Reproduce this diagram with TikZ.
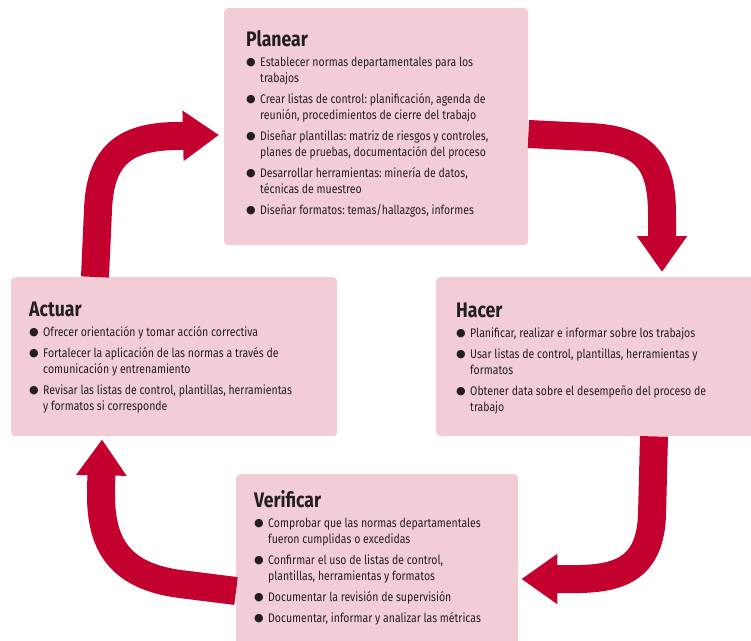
\documentclass[tikz,border=0pt]{standalone}
\usepackage{fontspec}
\usepackage{graphicx}
\setmainfont{Fira Sans}
\newfontfamily\bulfont{DejaVu Sans}
\usetikzlibrary{arrows.meta}

\definecolor{boxpink}{RGB}{242,205,214}
\definecolor{cyclered}{RGB}{196,0,47}
\definecolor{ink}{RGB}{35,31,32}

% stage heading, bullet mark and the narrowed two-column list layout
\newcommand\stagetitle[1]{\multicolumn{2}{@{}l@{}}{\fontsize{21}{21}\selectfont\bfseries #1}}
\newcommand\bul{\raisebox{0.2pt}{\scalebox{1.19}[1]{\bulfont\fontsize{11}{11}\selectfont ●}}}
\newcommand\stagelist[1]{\scalebox{0.84}[1]{%
  \begin{tabular}[t]{@{}p{16.7pt}@{}l@{}}#1\end{tabular}}}

\tikzset{
  stage/.style={fill=boxpink, draw=none, rounded corners=4pt, inner sep=0pt, anchor=north west},
  body/.style={anchor=base west, inner sep=0pt, text=ink,
    font=\fontsize{12.5}{16}\selectfont\frenchspacing},
  cycle/.style={draw=cyclered, line width=28pt, line cap=butt,
    -{Triangle[length=36pt,width=48pt]}}
}

\begin{document}
\begin{tikzpicture}[x=1pt,y=-1pt]
\clip (0,0) rectangle (751,640);
\fill[white] (0,0) rectangle (751,640);

% the four stages of the cycle
\node[stage, minimum width=304pt, minimum height=237pt] (plan) at (224,8) {};
\node[stage, minimum width=326pt, minimum height=159pt] (act) at (11,277) {};
\node[stage, minimum width=330pt, minimum height=159pt] (do) at (436,277) {};
\node[stage, minimum width=282pt, minimum height=180pt] (check) at (236,474) {};

\node[body] (plantxt) at (246,46) {\stagelist{%
  \stagetitle{Planear}\\[4pt]
  \bul & Establecer normas departamentales para los\\
       & trabajos\\[5pt]
  \bul & Crear listas de control: planificación, agenda de\\
       & reunión, procedimientos de cierre del trabajo\\[5pt]
  \bul & Diseñar plantillas: matriz de riesgos y controles,\\
       & planes de pruebas, documentación del proceso\\[5pt]
  \bul & Desarrollar herramientas: minería de datos,\\
       & técnicas de muestreo\\[5pt]
  \bul & Diseñar formatos: temas/hallazgos, informes}};

\node[body] (dotxt) at (456,317) {\stagelist{%
  \stagetitle{Hacer}\\[4pt]
  \bul & Planificar, realizar e informar sobre los trabajos\\[5pt]
  \bul & Usar listas de control, plantillas, herramientas y\\
       & formatos\\[5pt]
  \bul & Obtener data sobre el desempeño del proceso de\\
       & trabajo}};

\node[body] (checktxt) at (254,507) {\stagelist{%
  \stagetitle{Verificar}\\[4pt]
  \bul & Comprobar que las normas departamentales\\
       & fueron cumplidas o excedidas\\[5pt]
  \bul & Confirmar el uso de listas de control,\\
       & plantillas, herramientas y formatos\\[5pt]
  \bul & Documentar la revisión de supervisión\\[5pt]
  \bul & Documentar, informar y analizar las métricas}};

\node[body] (acttxt) at (29,316) {\stagelist{%
  \stagetitle{Actuar}\\[4pt]
  \bul & Ofrecer orientación y tomar acción correctiva\\[5pt]
  \bul & Fortalecer la aplicación de las normas a través de\\
       & comunicación y entrenamiento\\[5pt]
  \bul & Revisar las listas de control, plantillas, herramientas\\
       & y formatos si corresponde}};

% curved arrows linking the stages
\draw[cycle] (plan.east |- 0,134) -- (590,137)
  .. controls (648,140) and (662,165) .. (662,215)
  -- ([yshift=5pt]do.north -| 662,0);
\draw[cycle] (do.south -| 654,0) -- (652,515)
  .. controls (650,568) and (620,578) .. (580,579)
  -- ([xshift=3pt]check.east |- 0,579);
\draw[cycle] (check.west |- 0,591) -- (180,584)
  .. controls (120,576) and (101,545) .. (101,495)
  -- ([yshift=-3pt]act.south -| 102,0);
\draw[cycle] (act.north -| 95,0) -- (98,210)
  .. controls (100,155) and (125,137) .. (175,136)
  -- ([xshift=-5pt]plan.west |- 0,135);
\end{tikzpicture}
\end{document}
